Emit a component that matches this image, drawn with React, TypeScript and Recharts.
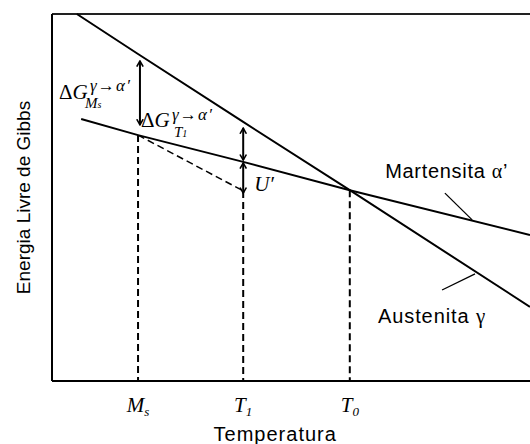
import React from 'react';
import { ComposedChart, Line, XAxis, YAxis, ReferenceLine, ReferenceDot, Label } from 'recharts';

// Temperatures of the marked points
const T_MS = 18;
const T_1 = 40;
const T_0 = 62.3;

const tickValues = [T_MS, T_1, T_0];
const tickMain = ['M', 'T', 'T'];
const tickSub = ['s', '1', '0'];

// Gibbs free energy curves
const austenite = [
  { t: 5.2, g: 100 },
  { t: 18, g: 89.1 },
  { t: 40, g: 70.6 },
  { t: 62.3, g: 52.0 },
  { t: 100, g: 20.2 },
];
const martensite = [
  { t: 6.1, g: 71.4 },
  { t: 18, g: 67.0 },
  { t: 40, g: 59.7 },
  { t: 62.3, g: 52.0 },
  { t: 100, g: 39.8 },
];

const G_MS_M = 67.0;
const G_T1_DASH = 51.8;
const G_T0 = 52.0;

// arrows [t, gFrom, gTo]
const arrows = [
  [18.4, 87.2, 69.8],
  [40, 68.9, 60.2],
  [40, 59.4, 51.2],
];

// pointers [t1, g1, t2, g2]
const pointers = [
  [82.2, 51.2, 87.9, 43.9],
  [81.6, 24.8, 88.5, 29.2],
];

const LBL_DG_MS = { t: 1.46, g: 76.8 };
const LBL_DG_T1 = { t: 18.6, g: 69.2 };
const LBL_U = { t: 42.3, g: 51.8 };
const LBL_MART = { t: 69.7, g: 55.3 };
const LBL_AUST = { t: 68.2, g: 15.8 };

const SERIF = '"Liberation Serif", "Times New Roman", serif';
const SANS = '"Liberation Sans", Arial, sans-serif';

const ArrowShape = (p: any) => (
  <line x1={p.x1} y1={p.y1} x2={p.x2} y2={p.y2} stroke="#000" strokeWidth={2}
    markerStart="url(#arrHead)" markerEnd="url(#arrHead)" />
);

const TickLabel = (props: any) => {
  const { x, y, index } = props;
  return (
    <text x={x} y={y + 23} textAnchor="middle" fontFamily={SERIF} fontStyle="italic" fontSize={21} fill="#000">
      <tspan>{tickMain[index]}</tspan>
      <tspan fontSize={13} dy={4}>{tickSub[index]}</tspan>
    </text>
  );
};

const DeltaG = (sub: string, subSmall: string, supDx: number, supDy: number, subDx: number, subDy: number) => (p: any) => {
  const { cx, cy } = p;
  return (
    <text x={cx} y={cy} fontFamily={SERIF} fontSize={21} fill="#000">
      <tspan>Δ</tspan><tspan fontStyle="italic">G</tspan>
      <tspan x={cx + supDx} y={cy + supDy} fontStyle="italic" fontSize={17} letterSpacing={1.2}>γ→α′</tspan>
      <tspan x={cx + subDx} y={cy + subDy} fontStyle="italic" fontSize={15}>{sub}</tspan>
      <tspan fontStyle="italic" fontSize={10}>{subSmall}</tspan>
    </text>
  );
};

const ULabel = (p: any) => (
  <text x={p.cx} y={p.cy} fontFamily={SERIF} fontStyle="italic" fontSize={21} fill="#000">U′</text>
);

const MartLabel = (p: any) => (
  <text x={p.cx} y={p.cy} fontFamily={SANS} fontSize={20} letterSpacing={0.7} fill="#000">
    <tspan>Martensita </tspan><tspan fontFamily={SERIF} fontSize={20}>α</tspan><tspan>’</tspan>
  </text>
);

const AustLabel = (p: any) => (
  <text x={p.cx} y={p.cy} fontFamily={SANS} fontSize={20} letterSpacing={0.9} fill="#000">
    <tspan>Austenita </tspan><tspan fontFamily={SERIF} fontSize={21}>γ</tspan>
  </text>
);

export default function App() {
  return (
    <div style={{ position: 'absolute', left: 0, top: 0, width: 530, height: 444, background: '#fff' }}>
      <svg width={0} height={0} style={{ position: 'absolute' }}>
        <defs>
          <marker id="arrHead" viewBox="0 0 10 10" refX={9} refY={5} markerWidth={7} markerHeight={8}
            markerUnits="userSpaceOnUse" orient="auto-start-reverse" preserveAspectRatio="none">
            <path d="M1,1 L9,5 L1,9" fill="none" stroke="#000" strokeWidth={2} />
          </marker>
        </defs>
      </svg>
      <ComposedChart width={530} height={444} margin={{ top: 14, right: 0, bottom: 0, left: 0 }}>
        <XAxis type="number" dataKey="t" domain={[0, 100]} ticks={tickValues} tick={<TickLabel />}
          tickLine={false} axisLine={{ stroke: '#000', strokeWidth: 2 }} height={63} interval={0}>
          <Label content={(lp: any) => {
            const vb = lp.viewBox;
            return (
              <text x={vb.x + vb.width * 0.467} y={vb.y + 60} textAnchor="middle" fontFamily={SANS}
                fontSize={20} letterSpacing={1} fill="#000">Temperatura</text>
            );
          }} />
        </XAxis>
        <YAxis type="number" domain={[0, 100]} tick={false} tickLine={false} width={52}
          axisLine={{ stroke: '#000', strokeWidth: 2 }}>
          <Label content={(lp: any) => {
            const vb = lp.viewBox;
            const cx = vb.x + 30;
            const cy = vb.y + vb.height / 2;
            return (
              <text x={cx} y={cy} transform={`rotate(-90, ${cx}, ${cy})`} textAnchor="middle"
                fontFamily={SANS} fontSize={19} fill="#000">Energia Livre de Gibbs</text>
            );
          }} />
        </YAxis>

        <ReferenceLine y={100} stroke="#222" strokeWidth={2} />

        <ReferenceLine segment={[{ x: T_MS, y: G_MS_M }, { x: T_MS, y: 0 }]} stroke="#000" strokeWidth={2} strokeDasharray="7 4" />
        <ReferenceLine segment={[{ x: T_1, y: G_T1_DASH }, { x: T_1, y: 0 }]} stroke="#000" strokeWidth={2} strokeDasharray="7 4" />
        <ReferenceLine segment={[{ x: T_0, y: G_T0 }, { x: T_0, y: 0 }]} stroke="#000" strokeWidth={2} strokeDasharray="7 4" />
        <ReferenceLine segment={[{ x: T_MS, y: G_MS_M }, { x: T_1, y: G_T1_DASH }]} stroke="#000" strokeWidth={1.5} strokeDasharray="7 4" />

        {arrows.map((a, i) => (
          <ReferenceLine key={'a' + i} segment={[{ x: a[0], y: a[1] }, { x: a[0], y: a[2] }]} shape={ArrowShape} />
        ))}
        {pointers.map((p, i) => (
          <ReferenceLine key={'p' + i} segment={[{ x: p[0], y: p[1] }, { x: p[2], y: p[3] }]} stroke="#000" strokeWidth={1.3} />
        ))}

        <Line data={austenite} dataKey="g" type="linear" stroke="#000" strokeWidth={2} dot={false} isAnimationActive={false} />
        <Line data={martensite} dataKey="g" type="linear" stroke="#000" strokeWidth={2} dot={false} isAnimationActive={false} />

        <ReferenceDot x={LBL_DG_MS.t} y={LBL_DG_MS.g} r={0} shape={DeltaG('M', 's', 31, -8, 26, 9)} />
        <ReferenceDot x={LBL_DG_T1.t} y={LBL_DG_T1.g} r={0} shape={DeltaG('T', '1', 31, -7, 33, 10)} />
        <ReferenceDot x={LBL_U.t} y={LBL_U.g} r={0} shape={ULabel} />
        <ReferenceDot x={LBL_MART.t} y={LBL_MART.g} r={0} shape={MartLabel} />
        <ReferenceDot x={LBL_AUST.t} y={LBL_AUST.g} r={0} shape={AustLabel} />
      </ComposedChart>
    </div>
  );
}
